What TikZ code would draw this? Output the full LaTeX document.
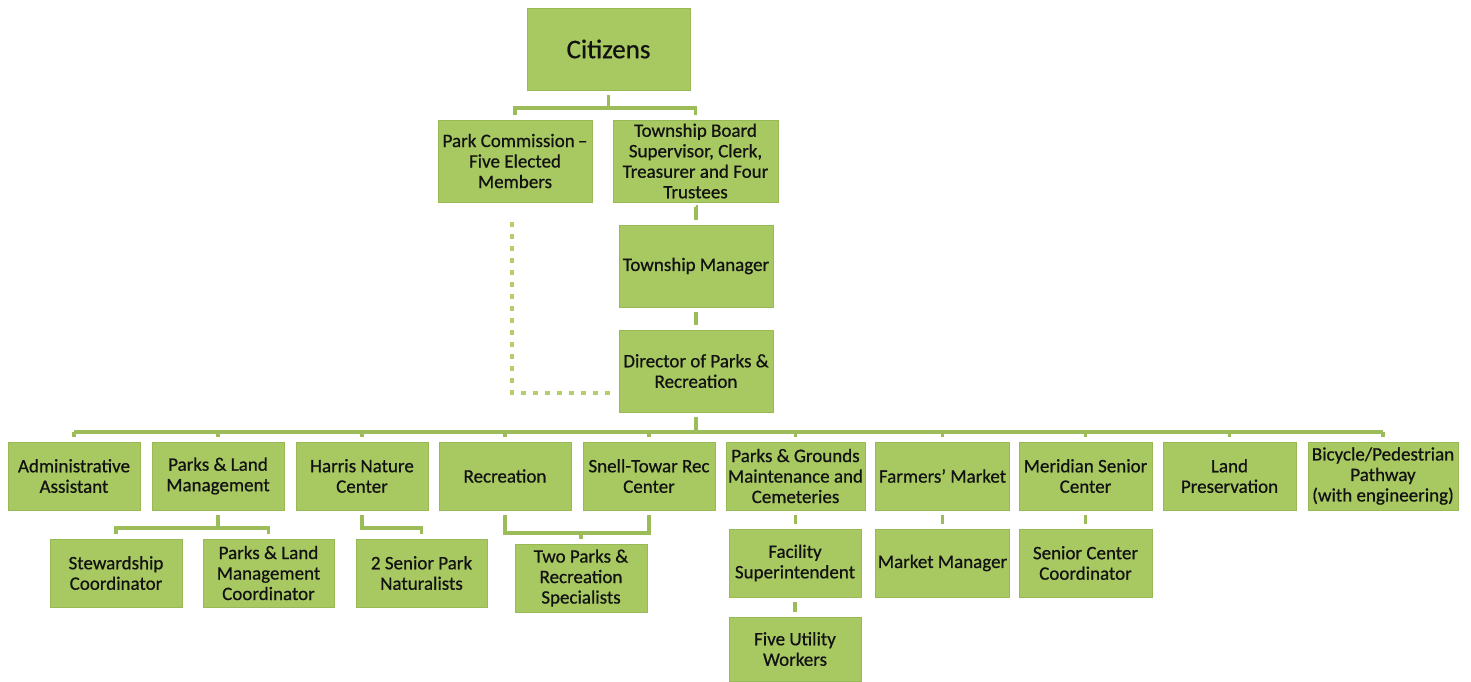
\documentclass[tikz,border=0pt]{standalone}
\usepackage{fontspec}
\setmainfont{Carlito}[FakeBold=0.6]
\usepackage{xcolor}
\usepackage{tikz}
\usetikzlibrary{positioning, calc}

\definecolor{boxgreen}{RGB}{168,200,98}
\definecolor{edgegreen}{RGB}{152,186,86}
\definecolor{linegreen}{RGB}{155,188,88}
\definecolor{dotgreen}{RGB}{180,206,106}
\definecolor{textdark}{RGB}{18,18,18}

\begin{document}
\begin{tikzpicture}[x=1pt, y=-1pt,
        unit/.style={fill=boxgreen, draw=edgegreen, line width=0.8pt, text=textdark, align=center,
            inner sep=0pt, outer sep=5pt, minimum width=132pt, minimum height=68pt,
            font=\fontsize{19}{20.5}\selectfont},
        tall/.style={unit, minimum width=154pt, minimum height=82pt},
        conn/.style={draw=linegreen, line width=3.2pt},
        dotline/.style={draw=dotgreen, line width=4.5pt, dash pattern=on 4.5pt off 7.5pt}]
        \useasboundingbox (0,0) rectangle (1471,681);

        % Top of the chart
        \node[tall, minimum width=163pt, font=\fontsize{27}{30}\selectfont] (cit) at (608.5,49) {Citizens};
        \node[tall] (pc) at (515,161) {Park Commission\,--\\Five Elected\\Members};
        \node[tall, minimum width=165pt] (tb) at (695.5,161) {Township Board\\Supervisor, Clerk,\\Treasurer and Four\\Trustees};
        \node[tall] (mgr) at (696,266) {Township Manager};
        \node[tall] (dir) at (696,371) {Director of Parks \&\\Recreation};

        % Divisions
        \node[unit] (adm) at (74,476) {Administrative\\Assistant};
        \node[unit] (plm) at (218,476) {Parks \& Land\\Management};
        \node[unit] (hnc) at (362,476) {Harris Nature\\Center};
        \node[unit] (rec) at (505,476) {Recreation};
        \node[unit] (snt) at (649,476) {Snell-Towar Rec\\Center};
        \node[unit, minimum width=139pt] (pgm) at (795.5,476) {Parks \& Grounds\\Maintenance and\\Cemeteries};
        \node[unit, minimum width=134pt] (fmk) at (942.5,476) {Farmers’ Market};
        \node[unit, minimum width=133pt] (msc) at (1085.5,476) {Meridian Senior\\Center};
        \node[unit, minimum width=133pt] (lpr) at (1229.5,476) {Land\\Preservation};
        \node[unit, minimum width=150pt] (bpp) at (1383,476) {Bicycle/Pedestrian\\Pathway\\(with engineering)};

        % Staff
        \node[unit] (stw) at (116,573) {Stewardship\\Coordinator};
        \node[unit, minimum width=131pt] (plc) at (268.5,573) {Parks \& Land\\Management\\Coordinator};
        \node[unit, minimum width=131pt] (snp) at (421.5,573) {2 Senior Park\\Naturalists};
        \node[unit] (tps) at (581,578) {Two Parks \&\\Recreation\\Specialists};
        \node[unit] (fsu) at (795,563) {Facility\\Superintendent};
        \node[unit, minimum height=64pt] (fuw) at (795,649) {Five Utility\\Workers};
        \node[unit, minimum width=134pt] (mmg) at (942.5,563) {Market Manager};
        \node[unit, minimum width=133pt] (scc) at (1085.5,563) {Senior Center\\Coordinator};

        % Bar levels
        \coordinate (lv1) at (0,108);
        \coordinate (lv3) at (0,432);
        \coordinate (lv4) at (0,528);
        \coordinate (lv5) at (0,533);

        % Connectors
        \draw[conn] (cit.south) -- (cit.south |- lv1);
        \draw[conn] (pc.north) -- (pc.north |- lv1) -- (tb.north |- lv1) -- (tb.north);
        \draw[conn] (tb.south) -- (tb.south -| mgr.north) -- (mgr.north);
        \draw[conn] (mgr.south) -- (dir.north);
        \draw[conn] (dir.south) -- (dir.south |- lv3);
        \draw[conn] (adm.north |- lv3) -- (bpp.north |- lv3);
        \foreach \n in {adm, plm, hnc, rec, snt, pgm, fmk, msc, lpr, bpp} {
            \draw[conn] (\n.north |- lv3) -- (\n.north);
        }
        \draw[conn] (plm.south) -- (plm.south |- lv4);
        \draw[conn] (stw.north) -- (stw.north |- lv4) -- (plc.north |- lv4) -- (plc.north);
        \draw[conn] (hnc.south) |- (snp.north |- lv4) -- (snp.north);
        \draw[conn] (rec.south) |- (snt.south |- lv5) -- (snt.south);
        \draw[conn] (tps.north |- lv5) -- (tps.north);
        \draw[conn] (pgm.south) -- (pgm.south |- fsu.north);
        \draw[conn] (fsu.south) -- (fuw.north);
        \draw[conn] (fmk.south) -- (mmg.north);
        \draw[conn] (msc.south) -- (scc.north);

        % Dotted link
        \draw[dotline, shorten <=15pt] ([xshift=-3pt]pc.south) |- ([yshift=-22pt]dir.west);

    \end{tikzpicture}
\end{document}
